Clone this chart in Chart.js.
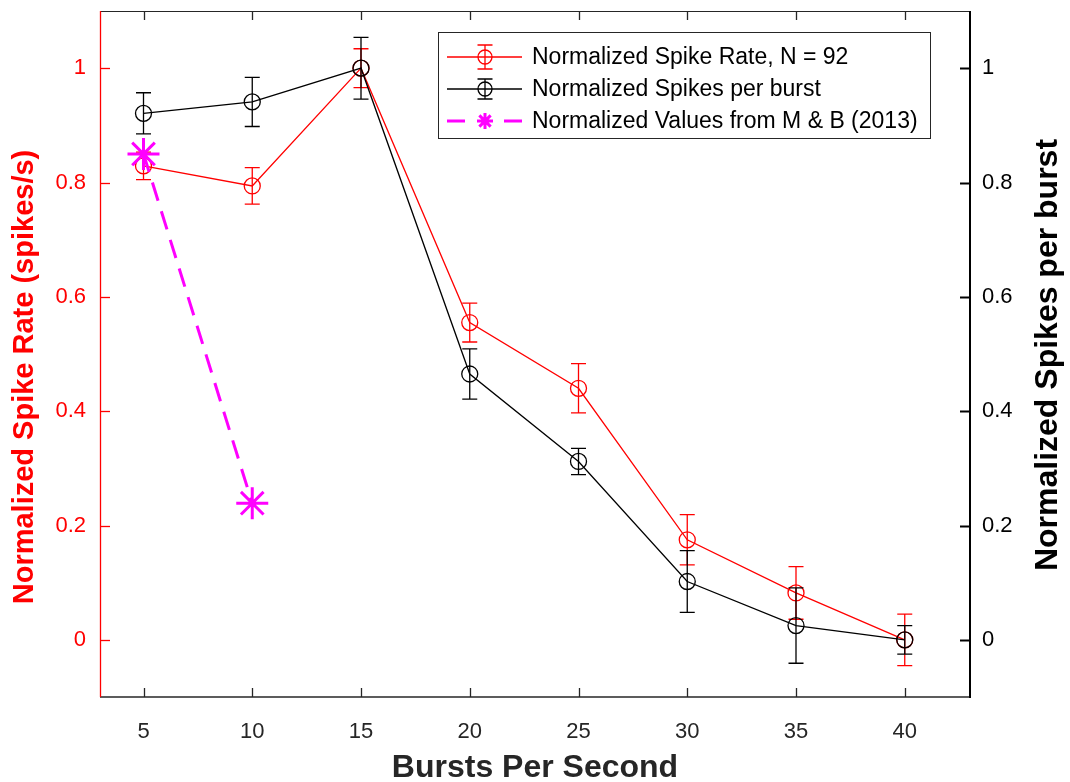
<!DOCTYPE html>
<html>
<head>
<meta charset="utf-8">
<script src="https://cdn.jsdelivr.net/npm/chart.js@4.4.1/dist/chart.umd.min.js"></script>
<style>
  html, body { margin: 0; padding: 0; background: #ffffff; }
  #wrap { width: 1070px; height: 782px; }
</style>
</head>
<body>
<div id="wrap"><canvas id="c" width="1070" height="782"></canvas></div>
<script>
// Burst frequencies (bursts per second)
const burstRates = [5, 10, 15, 20, 25, 30, 35, 40];
// Normalized spike rate and its error
const spikeRate = [0.829, 0.794, 1.0, 0.555, 0.440, 0.175, 0.082, 0.0];
const spikeRateErr = [0.024, 0.032, 0.034, 0.034, 0.043, 0.044, 0.046, 0.045];
// Normalized spikes per burst and its error
const spikesPerBurst = [0.921, 0.941, 1.0, 0.465, 0.312, 0.102, 0.025, 0.0];
const spikesPerBurstErr = [0.036, 0.043, 0.054, 0.044, 0.023, 0.054, 0.066, 0.025];
// Published comparison values
const mbRates = [5, 10];
const mbValues = [0.85, 0.239];
// Axis ticks
const xTicks = [5, 10, 15, 20, 25, 30, 35, 40];
const yTicks = [0, 0.2, 0.4, 0.6, 0.8, 1];
const yTickLabels = ['0', '0.2', '0.4', '0.6', '0.8', '1'];

const legendLabels = [
  'Normalized Spike Rate, N = 92',
  'Normalized Spikes per burst',
  'Normalized Values from M & B (2013)'
];
const xTitle = 'Bursts Per Second';
const yTitle = 'Normalized Spike Rate (spikes/s)';
const y2Title = 'Normalized Spikes per burst';

const FONT = '"Liberation Sans", Arial, Helvetica, sans-serif';
const RED = '#ff0000';
const BLACK = '#000000';
const MAGENTA = '#ff00ff';
const AXIS = '#262626';

const pts = (xs, ys) => xs.map((x, i) => ({ x: x, y: ys[i] }));

// Vertical error bars with caps, drawn just before each dataset's line/markers
const errorBars = {
  id: 'errorBars',
  beforeDatasetDraw(chart, args) {
    const ds = chart.data.datasets[args.index];
    if (!ds.errors) return;
    const xs = chart.scales.x;
    const ys = chart.scales[ds.yAxisID];
    const ctx = chart.ctx;
    ctx.save();
    ctx.strokeStyle = ds.borderColor;
    ctx.lineWidth = 1.3;
    ds.data.forEach((p, i) => {
      const e = ds.errors[i];
      const px = xs.getPixelForValue(p.x);
      const top = ys.getPixelForValue(p.y + e);
      const bot = ys.getPixelForValue(p.y - e);
      ctx.beginPath();
      ctx.moveTo(px, top); ctx.lineTo(px, bot);
      ctx.moveTo(px - 7.5, top); ctx.lineTo(px + 7.5, top);
      ctx.moveTo(px - 7.5, bot); ctx.lineTo(px + 7.5, bot);
      ctx.stroke();
    });
    ctx.restore();
  }
};

// Axis box with inward tick marks
const axesBox = {
  id: 'axesBox',
  afterDatasetsDraw(chart) {
    const { ctx, chartArea: a } = chart;
    const xs = chart.scales.x, ys = chart.scales.y, y2 = chart.scales.y2;
    ctx.save();
    // top border
    ctx.strokeStyle = AXIS; ctx.lineWidth = 1;
    ctx.beginPath(); ctx.moveTo(a.left, a.top + 0.5); ctx.lineTo(a.right, a.top + 0.5); ctx.stroke();
    // bottom axis
    ctx.lineWidth = 1.4;
    ctx.beginPath(); ctx.moveTo(a.left, a.bottom); ctx.lineTo(a.right, a.bottom); ctx.stroke();
    ctx.lineWidth = 1.3;
    xTicks.forEach(v => {
      const px = Math.round(xs.getPixelForValue(v)) + 0.5;
      ctx.beginPath();
      ctx.moveTo(px, a.bottom); ctx.lineTo(px, a.bottom - 9);
      ctx.moveTo(px, a.top); ctx.lineTo(px, a.top + 9);
      ctx.stroke();
    });
    // left axis (red)
    ctx.strokeStyle = RED; ctx.lineWidth = 1.3;
    ctx.beginPath(); ctx.moveTo(a.left + 0.5, a.top); ctx.lineTo(a.left + 0.5, a.bottom); ctx.stroke();
    yTicks.forEach(v => {
      const py = Math.round(ys.getPixelForValue(v)) + 0.5;
      ctx.beginPath(); ctx.moveTo(a.left, py); ctx.lineTo(a.left + 10, py); ctx.stroke();
    });
    // right axis (black)
    ctx.strokeStyle = BLACK; ctx.lineWidth = 2;
    ctx.beginPath(); ctx.moveTo(a.right, a.top); ctx.lineTo(a.right, a.bottom + 1); ctx.stroke();
    yTicks.forEach(v => {
      const py = Math.round(y2.getPixelForValue(v)) + 0.5;
      ctx.beginPath(); ctx.moveTo(a.right, py); ctx.lineTo(a.right - 10, py); ctx.stroke();
    });
    ctx.restore();
  }
};

function drawStar(ctx, x, y, r) {
  ctx.beginPath();
  for (let k = 0; k < 4; k++) {
    const ang = k * Math.PI / 4;
    const dx = Math.cos(ang) * r, dy = Math.sin(ang) * r;
    ctx.moveTo(x - dx, y - dy); ctx.lineTo(x + dx, y + dy);
  }
  ctx.stroke();
}

// Axis titles and boxed legend
const annotations = {
  id: 'annotations',
  afterDraw(chart) {
    const { ctx, chartArea: a } = chart;
    ctx.save();
    ctx.textAlign = 'center';
    ctx.textBaseline = 'middle';
    // x title
    ctx.fillStyle = AXIS;
    ctx.font = 'bold 32px ' + FONT;
    ctx.fillText(xTitle, (a.left + a.right) / 2, 768);
    // left title
    ctx.save();
    ctx.translate(25, 377);
    ctx.rotate(-Math.PI / 2);
    ctx.fillStyle = RED;
    ctx.font = 'bold 29px ' + FONT;
    ctx.fillText(yTitle, 0, 0);
    ctx.restore();
    // right title
    ctx.save();
    ctx.translate(1048, 355);
    ctx.rotate(-Math.PI / 2);
    ctx.fillStyle = BLACK;
    ctx.font = 'bold 32px ' + FONT;
    ctx.fillText(y2Title, 0, 0);
    ctx.restore();

    // legend box
    const bx = 438, by = 32, bw = 492, bh = 106;
    ctx.fillStyle = '#ffffff';
    ctx.fillRect(bx, by, bw, bh);
    ctx.strokeStyle = '#262626'; ctx.lineWidth = 1;
    ctx.strokeRect(bx + 0.5, by + 0.5, bw, bh);
    const rows = [57, 89, 121];
    const lx0 = 447, lx1 = 522, mx = 485, tx = 532;
    // red row
    ctx.strokeStyle = RED; ctx.lineWidth = 1.3;
    ctx.beginPath();
    ctx.moveTo(lx0, rows[0]); ctx.lineTo(lx1, rows[0]);
    ctx.moveTo(mx, rows[0] - 12); ctx.lineTo(mx, rows[0] + 12);
    ctx.moveTo(mx - 7.5, rows[0] - 12); ctx.lineTo(mx + 7.5, rows[0] - 12);
    ctx.moveTo(mx - 7.5, rows[0] + 12); ctx.lineTo(mx + 7.5, rows[0] + 12);
    ctx.stroke();
    ctx.beginPath(); ctx.arc(mx, rows[0], 7, 0, Math.PI * 2); ctx.stroke();
    // black row
    ctx.strokeStyle = BLACK;
    ctx.beginPath();
    ctx.moveTo(lx0, rows[1]); ctx.lineTo(lx1, rows[1]);
    ctx.moveTo(mx, rows[1] - 10); ctx.lineTo(mx, rows[1] + 10);
    ctx.moveTo(mx - 7.5, rows[1] - 10); ctx.lineTo(mx + 7.5, rows[1] - 10);
    ctx.moveTo(mx - 7.5, rows[1] + 10); ctx.lineTo(mx + 7.5, rows[1] + 10);
    ctx.stroke();
    ctx.beginPath(); ctx.arc(mx, rows[1], 7, 0, Math.PI * 2); ctx.stroke();
    // magenta row
    ctx.strokeStyle = MAGENTA; ctx.lineWidth = 3;
    ctx.beginPath();
    ctx.moveTo(lx0, rows[2]); ctx.lineTo(lx0 + 18, rows[2]);
    ctx.moveTo(lx1 - 18, rows[2]); ctx.lineTo(lx1, rows[2]);
    ctx.stroke();
    drawStar(ctx, mx, rows[2], 8);
    // labels
    ctx.fillStyle = '#000000';
    ctx.font = '23px ' + FONT;
    ctx.textAlign = 'left';
    legendLabels.forEach((t, i) => ctx.fillText(t, tx, rows[i] + 1));
    ctx.restore();
  }
};

const fixedTicks = (vals) => (scale) => { scale.ticks = vals.map(v => ({ value: v })); };
const noPad = (scale) => {
  scale.paddingTop = 0; scale.paddingBottom = 0;
  scale.paddingLeft = 0; scale.paddingRight = 0;
};

new Chart(document.getElementById('c'), {
  type: 'line',
  data: {
    datasets: [
      {
        label: legendLabels[0],
        data: pts(burstRates, spikeRate),
        errors: spikeRateErr,
        yAxisID: 'y',
        borderColor: RED,
        borderWidth: 1.3,
        pointStyle: 'circle',
        pointRadius: 8,
        pointBorderWidth: 1.3,
        pointBorderColor: RED,
        pointBackgroundColor: 'rgba(0,0,0,0)',
        tension: 0,
        order: 3
      },
      {
        label: legendLabels[1],
        data: pts(burstRates, spikesPerBurst),
        errors: spikesPerBurstErr,
        yAxisID: 'y2',
        borderColor: BLACK,
        borderWidth: 1.3,
        pointStyle: 'circle',
        pointRadius: 8,
        pointBorderWidth: 1.3,
        pointBorderColor: BLACK,
        pointBackgroundColor: 'rgba(0,0,0,0)',
        tension: 0,
        order: 2
      },
      {
        label: legendLabels[2],
        data: pts(mbRates, mbValues),
        yAxisID: 'y',
        borderColor: MAGENTA,
        borderWidth: 3,
        borderDash: [19, 11],
        pointStyle: 'star',
        pointRadius: 16,
        pointBorderWidth: 3,
        pointBorderColor: MAGENTA,
        pointBackgroundColor: MAGENTA,
        tension: 0,
        order: 1
      }
    ]
  },
  options: {
    responsive: false,
    animation: false,
    layout: { autoPadding: false, padding: { top: 11, left: 0, right: 0, bottom: 0 } },
    plugins: { legend: { display: false }, tooltip: { enabled: false } },
    scales: {
      x: {
        type: 'linear',
        position: 'bottom',
        min: 3, max: 43,
        afterBuildTicks: fixedTicks(xTicks),
        afterFit: (s) => { s.height = 85; noPad(s); },
        grid: { display: false, drawTicks: false },
        border: { display: false },
        ticks: { color: AXIS, font: { family: FONT, size: 22 }, padding: 22, maxRotation: 0, autoSkip: false }
      },
      y: {
        type: 'linear',
        position: 'left',
        min: -0.1, max: 1.1,
        afterBuildTicks: fixedTicks(yTicks),
        afterFit: (s) => { s.width = 100; noPad(s); },
        grid: { display: false, drawTicks: false },
        border: { display: false },
        ticks: {
          color: RED, font: { family: FONT, size: 22 }, padding: 14, autoSkip: false,
          callback: (v) => { const i = yTicks.indexOf(v); return i >= 0 ? yTickLabels[i] : ''; }
        }
      },
      y2: {
        type: 'linear',
        position: 'right',
        min: -0.1, max: 1.1,
        afterBuildTicks: fixedTicks(yTicks),
        afterFit: (s) => { s.width = 100; noPad(s); },
        grid: { display: false, drawTicks: false },
        border: { display: false },
        ticks: {
          color: BLACK, font: { family: FONT, size: 22 }, padding: 12, autoSkip: false,
          callback: (v) => { const i = yTicks.indexOf(v); return i >= 0 ? yTickLabels[i] : ''; }
        }
      }
    }
  },
  plugins: [errorBars, axesBox, annotations]
});
</script>
</body>
</html>
